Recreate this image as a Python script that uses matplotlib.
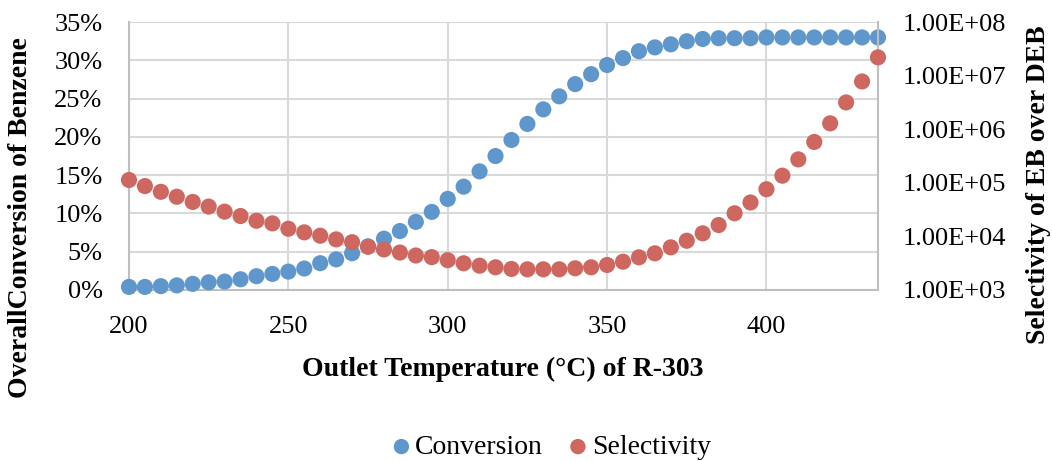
import numpy as np
import matplotlib.pyplot as plt
from matplotlib.ticker import FixedLocator, FuncFormatter

# outlet temperature of R-303 (°C)
temperature = list(range(200, 436, 5))

# overall conversion of benzene (%)
conversion = [0.4, 0.4, 0.5, 0.6, 0.8, 1.0, 1.1, 1.4, 1.8, 2.1,
              2.4, 2.8, 3.5, 4.0, 4.8, 5.7, 6.7, 7.7, 8.9, 10.2,
              11.9, 13.5, 15.5, 17.5, 19.6, 21.7, 23.6, 25.3, 26.9, 28.2,
              29.4, 30.3, 31.2, 31.7, 32.1, 32.5, 32.8, 32.9, 32.9, 32.9,
              33.0, 33.0, 33.0, 33.0, 33.0, 33.0, 33.0, 33.0]

# selectivity of EB over DEB
selectivity = [1.13e5, 8.7e4, 6.8e4, 5.5e4, 4.4e4, 3.6e4, 2.9e4, 2.4e4, 1.96e4, 1.75e4,
               1.39e4, 1.19e4, 1.03e4, 8.8e3, 7.8e3, 6.4e3, 5.7e3, 5.0e3, 4.4e3, 4.1e3,
               3.6e3, 3.15e3, 2.84e3, 2.65e3, 2.47e3, 2.43e3, 2.43e3, 2.43e3, 2.54e3, 2.65e3,
               2.93e3, 3.37e3, 4.07e3, 4.83e3, 6.25e3, 8.3e3, 1.14e4, 1.63e4, 2.7e4, 4.3e4,
               7.6e4, 1.36e5, 2.74e5, 5.8e5, 1.29e6, 3.17e6, 7.8e6, 2.2e7]

plt.rcParams['font.family'] = ['Liberation Serif', 'DejaVu Serif']

BLUE = '#5F97CC'
RED = '#CD675F'
GRID = '#D9D9D9'

fig = plt.figure(figsize=(10.52, 4.61), dpi=100)
ax = fig.add_axes([0.1226, 0.371, 0.712, 0.581])
ax2 = ax.twinx()

ax.scatter(temperature, conversion, s=135, color=BLUE, edgecolors='none',
           label='Conversion', zorder=3, clip_on=False)
ax2.scatter(temperature, selectivity, s=135, color=RED, edgecolors='none',
            label='Selectivity', zorder=3, clip_on=False)

ax.set_xlim(200, 435)
ax.set_ylim(0, 35)
ax.set_xticks([200, 250, 300, 350, 400])
ax.set_yticks(range(0, 36, 5))
ax.yaxis.set_major_formatter(FuncFormatter(lambda v, p: f'{v:.0f}%'))
ax.grid(True, color=GRID, linewidth=1.5)
ax.set_axisbelow(True)

ax2.set_yscale('log')
ax2.set_ylim(1e3, 1e8)
ax2.yaxis.set_major_locator(FixedLocator([1e3, 1e4, 1e5, 1e6, 1e7, 1e8]))
ax2.yaxis.set_minor_locator(FixedLocator([]))
ax2.yaxis.set_major_formatter(FuncFormatter(lambda v, p: f'{v:.2E}'))

ax.tick_params(axis='x', length=0, labelsize=19, pad=19)
ax.tick_params(axis='y', length=0, labelsize=19, pad=19)
ax2.tick_params(axis='y', length=0, labelsize=19, pad=18)
for a in (ax, ax2):
    for sp in a.spines.values():
        sp.set_color('#BFBFBF')
        sp.set_linewidth(1.5)
    a.spines['top'].set_visible(False)
ax2.spines['left'].set_visible(False)
ax2.spines['bottom'].set_visible(False)
ax.spines['right'].set_visible(False)

ax.set_xlabel('Outlet Temperature (°C) of R-303', fontsize=20, fontweight='bold')
ax.set_ylabel('OverallConversion of Benzene', fontsize=20, fontweight='bold')
ax2.set_ylabel('Selectivity of EB over DEB', fontsize=20, fontweight='bold')
ax.xaxis.set_label_coords(0.499, -0.25)
ax.yaxis.set_label_coords(-0.128, 0.272)
ax2.yaxis.set_label_coords(1.198, 0.392)

h1, l1 = ax.get_legend_handles_labels()
h2, l2 = ax2.get_legend_handles_labels()
fig.legend(h1 + h2, l1 + l2, loc='center', bbox_to_anchor=(0.524, 0.03), ncol=2,
           frameon=False, fontsize=20, markerscale=0.95, handlelength=0.7,
           handletextpad=0.15, columnspacing=0.9, borderpad=0)

fig.savefig('out.png', dpi=100)
